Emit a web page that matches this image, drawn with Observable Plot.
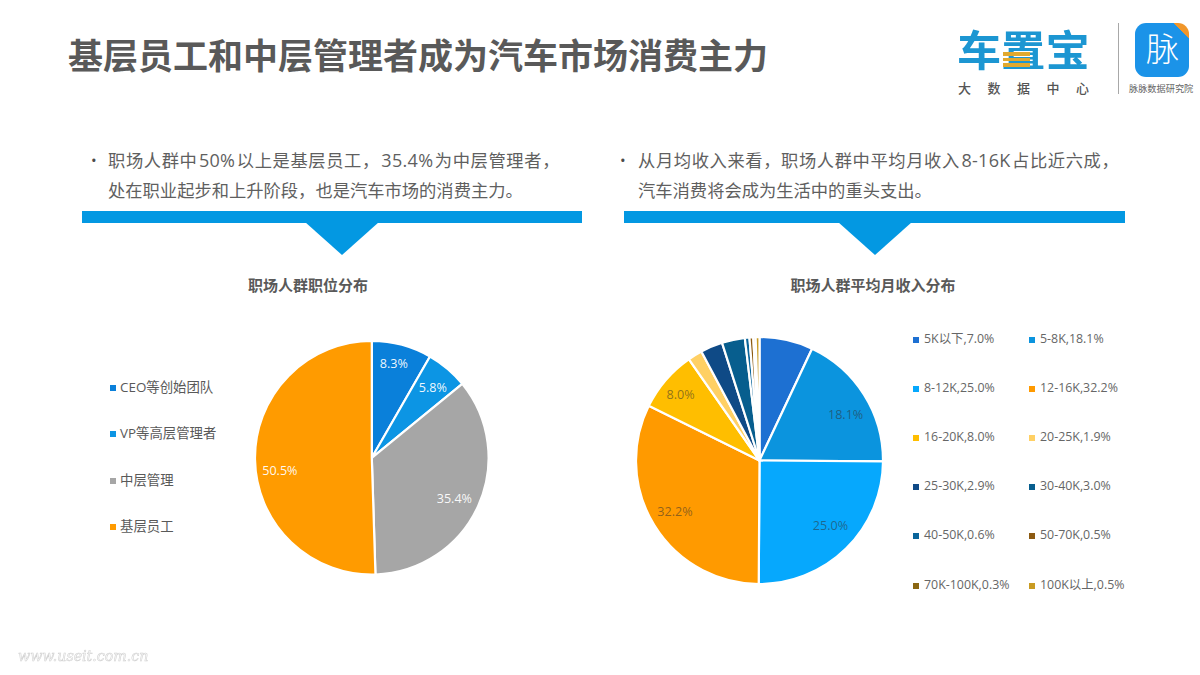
<!DOCTYPE html>
<html lang="zh-CN">
<head>
<meta charset="utf-8">
<script src="https://cdn.jsdelivr.net/npm/d3@7"></script>
<script src="https://cdn.jsdelivr.net/npm/@observablehq/plot@0.6"></script>
<style>
  html,body{margin:0;padding:0;background:#fff;}
  #page{position:relative;width:1200px;height:675px;overflow:hidden;background:#fff;
    font-family:"Open Sans","Noto Sans CJK SC",sans-serif;color:#595959;}
  #page>*{position:absolute;}
  .t{white-space:nowrap;line-height:1;}
  .zh{font-family:"Noto Sans CJK SC",sans-serif;}
  .bar{background:#0398e2;height:12px;top:211px;}
  .tri{width:0;height:0;top:222px;border-left:37px solid transparent;border-right:37px solid transparent;border-top:33px solid #0398e2;}
  .body{font-size:17.3px;color:#5f5f5f;}
  .body .lat{font-size:18px;letter-spacing:0.3px;margin:0 1.5px;}
  .ct{font-size:15px;font-weight:700;font-family:"Noto Sans CJK SC",sans-serif;color:#595959;transform:translate(-50%,0);}
  .sw{width:6px;height:6px;}
  svg{overflow:visible;}
</style>
</head>
<body>
<div id="page"></div>
<script>
// ---- data ----
const positionCats = ["CEO等创始团队", "VP等高层管理者", "中层管理", "基层员工"];
const positionVals = [8.3, 5.8, 35.4, 50.5];
const positionColors = ["#0a80da", "#0c95e4", "#a6a6a6", "#ff9b00"];

const incomeCats = ["5K以下", "5-8K", "8-12K", "12-16K", "16-20K", "20-25K", "25-30K", "30-40K", "40-50K", "50-70K", "70K-100K", "100K以上"];
const incomeVals = [7.0, 18.1, 25.0, 32.2, 8.0, 1.9, 2.9, 3.0, 0.6, 0.5, 0.3, 0.5];
const incomeColors = ["#1d70d2", "#0b94de", "#06a8fd", "#ff9a00", "#ffbe00", "#ffd064", "#0f4a86", "#075e8e", "#0a659b", "#8c5a12", "#8b6712", "#c99b22"];
const incomeLabeled = ["5-8K", "8-12K", "12-16K", "16-20K"];

const titleText = "基层员工和中层管理者成为汽车市场消费主力";
const leftLines = ["职场人群中50%以上是基层员工，35.4%为中层管理者，", "处在职业起步和上升阶段，也是汽车市场的消费主力。"];
const rightLines = ["从月均收入来看，职场人群中平均月收入8-16K占比近六成，", "汽车消费将会成为生活中的重头支出。"];

// label placement tweaks (pixels), kept apart from the values
const leftNudge = {"CEO等创始团队": [-2.5, -4], "VP等高层管理者": [0, 1], "中层管理": [-3, 2], "基层员工": [1, 11]};
const rightNudge = {"5-8K": [2, 6.5], "8-12K": [1, -5], "12-16K": [-1, -1], "16-20K": [-4.5, -1.5]};

// ---- pie via Plot ----
function pie(cats, vals, colors, radius, labelFill, labelOpacity, labeled, nudge) {
  const data = cats.map((c, i) => ({c, v: vals[i]}));
  const size = 2 * radius + 10;
  const c0 = size / 2;
  const arc = d3.arc();
  return Plot.plot({
    width: size, height: size, margin: 0,
    style: {background: "transparent", overflow: "visible"},
    x: {domain: [0, d3.sum(vals)], range: [0, 2 * Math.PI], axis: null},
    color: {domain: cats, range: colors},
    marks: [
      Plot.barX(data, Plot.stackX({
        x: "v", fill: "c",
        render(index, scales, values) {
          const g = d3.create("svg:g").attr("transform", `translate(${c0},${c0})`);
          for (const i of index) {
            g.append("path")
              .attr("d", arc({innerRadius: 0, outerRadius: radius, startAngle: values.x1[i], endAngle: values.x2[i]}))
              .attr("fill", values.fill[i]).attr("stroke", "#fff").attr("stroke-width", 2.2).attr("stroke-linejoin", "round")
              .append("title").text(`${data[i].c}: ${data[i].v}%`);
          }
          return g.node();
        }
      })),
      Plot.text(data, Plot.filter(d => labeled.includes(d.c), Plot.stackX({
        x: "v", text: d => d.v.toFixed(1) + "%",
        fill: labelFill, fillOpacity: labelOpacity, fontSize: 12.6,
        fontFamily: '"Open Sans",sans-serif',
        render(index, scales, values, dims, ctx, next) {
          const X = new Float64Array(values.x.length), Y = new Float64Array(values.x.length);
          for (const i of index) {
            const a = values.x[i];
            const [nx, ny] = nudge[data[i].c];
            X[i] = c0 + 0.8 * radius * Math.sin(a) + nx;
            Y[i] = c0 - 0.8 * radius * Math.cos(a) + ny;
          }
          return next(index, scales, {...values, x: X, y: Y}, dims, ctx);
        }
      })))
    ]
  });
}

// ---- page ----
const page = d3.select("#page");
function txt(s, x, y, style, cls) {
  return page.append("div").attr("class", "t " + (cls || ""))
    .attr("style", `left:${x}px;top:${y}px;${style || ""}`).text(s);
}
function bodyLine(s, x, y, spacing) {
  const d = txt("", x, y, `letter-spacing:${spacing}px;`, "body");
  s.split(/([0-9][0-9.\-]*[%K])/).forEach((part, k) => {
    d.append("span").attr("class", k % 2 ? "lat" : null).text(part);
  });
}

txt(titleText, 68, 36, "font-size:35px;font-weight:700;color:#595959;", "zh");

// logo
txt("车置宝", 957, 27, "font-size:42.5px;font-weight:700;color:#1c96d2;transform:scaleX(1.04);transform-origin:left center;", "zh");
for (const top of [52, 57.5, 63]) {
  page.append("div").attr("style", `left:1003px;top:${top}px;width:27px;height:3.5px;background:#e1a92f;`);
}
txt("大数据中心", 958, 80.5, "font-size:13px;font-weight:500;color:#555;letter-spacing:16.5px;", "zh");
page.append("div").attr("style", "left:1118px;top:23px;width:1px;height:71px;background:#a8a8a8;");
page.append("div").attr("style", "left:1135px;top:23px;width:54px;height:54px;border-radius:11px;overflow:hidden;background:linear-gradient(225deg,#f0962a 0,#f0962a 11px,#1b93e8 11px);");
txt("脉", 1146, 31, "font-size:33px;color:#fff;font-weight:300;", "zh");
txt("脉脉数据研究院", 1129, 84, "font-size:9.2px;color:#666;", "zh");

// text blocks
txt("•", 91, 153, "font-size:15px;color:#4a4a4a;");
leftLines.forEach((l, i) => bodyLine(l, 108, 151 + i * 31, i ? 0 : 0.6));
txt("•", 620, 153, "font-size:15px;color:#4a4a4a;");
rightLines.forEach((l, i) => bodyLine(l, 638, 151 + i * 31, i ? 0 : 0.6));

// banners
page.append("div").attr("class", "bar").style("left", "82px").style("width", "500px");
page.append("div").attr("class", "tri").style("left", "305px");
page.append("div").attr("class", "bar").style("left", "624px").style("width", "501px");
page.append("div").attr("class", "tri").style("left", "838px");

// chart titles
txt("职场人群职位分布", 308, 277, "", "ct");
txt("职场人群平均月收入分布", 873, 277, "", "ct");

// pies
function place(plot, cx, cy, r) {
  const n = page.node().appendChild(plot);
  n.style.position = "absolute";
  n.style.left = (cx - r - 5) + "px";
  n.style.top = (cy - r - 5) + "px";
  return plot;
}
const pieL = place(pie(positionCats, positionVals, positionColors, 116.8, "#ffffff", 0.95, positionCats, leftNudge), 371.8, 457.5, 116.8);
const pieR = place(pie(incomeCats, incomeVals, incomeColors, 123.5, "#303030", 0.55, incomeLabeled, rightNudge), 759.5, 460.5, 123.5);

// legends
const legendLY = [387.5, 433.5, 480.5, 526.5];
positionCats.forEach((c, i) => {
  page.append("div").attr("class", "sw").attr("style", `left:110px;top:${legendLY[i] - 2.5}px;background:${pieL.scale("color").apply(c)};`);
  txt(c, 120, legendLY[i] - 7, "font-size:13.4px;color:#595959;");
});
const legendRY = [339, 388, 437, 486, 535.5, 585];
const legendRX = [913, 1029];
incomeCats.forEach((c, i) => {
  const col = i % 2, row = Math.floor(i / 2);
  page.append("div").attr("class", "sw").attr("style", `left:${legendRX[col]}px;top:${legendRY[row] - 2.5}px;background:${pieR.scale("color").apply(c)};`);
  txt(`${c},${incomeVals[i].toFixed(1)}%`, legendRX[col] + 11, legendRY[row] - 6.5, "font-size:12.4px;color:#666;");
});

// watermark
txt("www.useit.com.cn", 18, 649, 'font-size:14.2px;font-style:italic;font-family:"DejaVu Serif",serif;color:#fff;-webkit-text-stroke:0.6px #d2d2d2;filter:blur(0.4px);');
</script>
</body>
</html>
